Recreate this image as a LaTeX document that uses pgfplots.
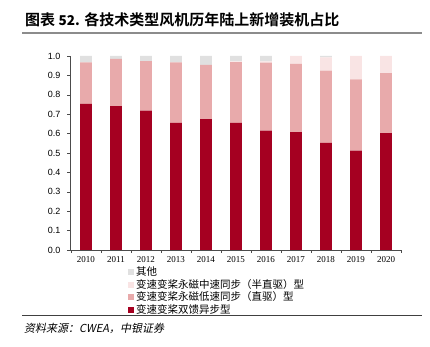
\documentclass[border=0pt]{standalone}
\usepackage{pgfplots}
\pgfplotsset{compat=1.18}
\usepackage{fontspec}
\setmainfont{Liberation Sans}
\newfontfamily\seriffont{Liberation Serif}
\newfontfamily\cjk{Noto Sans CJK SC}
\newfontfamily\cjkb{Noto Sans CJK SC Bold}
\newfontfamily\cjkit[FakeSlant=0.2]{Noto Sans CJK SC}
\definecolor{cDark}{HTML}{A50021}
\definecolor{cPink}{HTML}{E8AAAB}
\definecolor{cLight}{HTML}{F9E4E4}
\definecolor{cGray}{HTML}{E0E0E0}
\pgfplotstableread{
x dark direct semi other
0 0.753 0.214 0.000 0.033
1 0.742 0.243 0.000 0.015
2 0.718 0.256 0.000 0.026
3 0.655 0.312 0.000 0.033
4 0.675 0.279 0.000 0.046
5 0.655 0.314 0.003 0.028
6 0.615 0.351 0.006 0.028
7 0.608 0.351 0.041 0.000
8 0.552 0.372 0.069 0.007
9 0.512 0.368 0.120 0.000
10 0.603 0.309 0.088 0.000
}\datatable
\begin{document}
\begin{tikzpicture}
\path[use as bounding box] (0pt,0pt) rectangle (430pt,347pt);
\node[anchor=west,inner sep=0] at (25pt,327pt) {\cjkb\fontsize{15}{16}\selectfont 图表 {\bfseries\fontsize{13.5}{16}\selectfont 52.} 各技术类型风机历年陆上新增装机占比};
\draw[draw=gray!90,line width=1.4pt] (22pt,314pt) -- (422pt,314pt);
\draw[draw=black!75,line width=1pt] (22pt,31pt) -- (422pt,31pt);
\node[anchor=west,inner sep=0] at (24pt,19pt) {\cjkit\fontsize{11}{12}\selectfont 资料来源：{\itshape CWEA}，中银证券};
\begin{axis}[
  at={(70pt,97pt)}, anchor=south west,
  scale only axis, width=331pt, height=194pt,
  ybar stacked, bar width=11.7pt,
  xmin=-0.53, xmax=10.5, ymin=0, ymax=1,
  axis x line*=bottom, axis y line*=left,
  axis line style={draw=black!70},
  xtick={0,...,10},
  xticklabels={2010,2011,2012,2013,2014,2015,2016,2017,2018,2019,2020},
  minor xtick={-0.5,0.5,...,10.5},
  major x tick style={draw=none},
  minor x tick style={draw=black!70},
  tick align=outside,
  major tick length=3pt, minor tick length=3pt,
  xticklabel style={font=\seriffont\fontsize{9}{10}\selectfont, yshift=0pt},
  ytick={0,0.1,...,1.0},
  yticklabel style={font=\fontsize{9}{10}\selectfont, xshift=-3pt},
  yticklabel={\pgfmathprintnumber[fixed,fixed zerofill,precision=1]{\tick}},
  /pgf/number format/assume math mode=true,
  y tick style={draw=black!70},
  legend style={at={(0.175,-0.075)}, anchor=north west, draw=none, fill=none,
    font=\cjk\fontsize{10.5}{11.3}\selectfont, row sep=-1.8pt,
    inner sep=0pt, cells={anchor=west}},
  legend image code/.code={\fill[#1] (0pt,-3pt) rectangle (6pt,3pt);},
  reverse legend,
  every axis plot/.append style={draw=none},
]
\addplot[fill=cDark] table[x=x,y=dark] {\datatable};
\addplot[fill=cPink] table[x=x,y=direct] {\datatable};
\addplot[fill=cLight] table[x=x,y=semi] {\datatable};
\addplot[fill=cGray] table[x=x,y=other] {\datatable};
\legend{变速变桨双馈异步型,变速变桨永磁低速同步（直驱）型,变速变桨永磁中速同步（半直驱）型,其他}
\end{axis}
\end{tikzpicture}
\end{document}
